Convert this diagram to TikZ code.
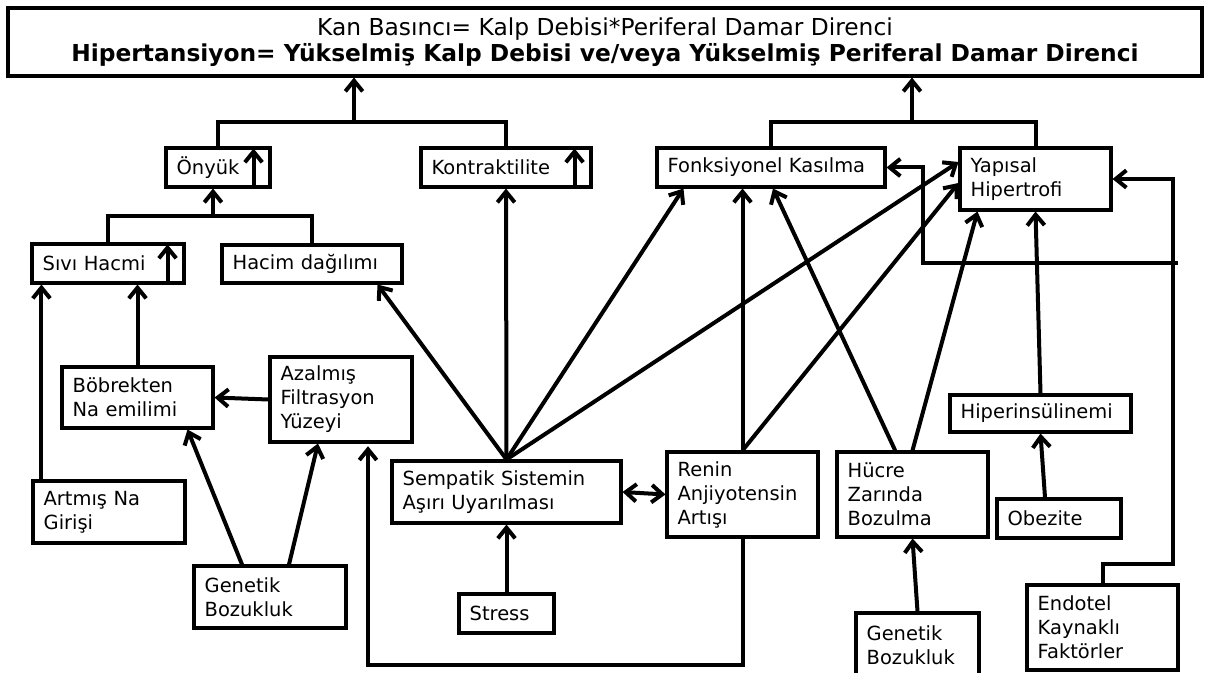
\documentclass[tikz,border=0pt]{standalone}
\usepackage{fontspec}
\setmainfont{DejaVu Sans}
\usetikzlibrary{arrows.meta}

\begin{document}
\begin{tikzpicture}
[x=0.75pt,y=-0.75pt,%
  boxNode/.style={draw,line width=2.3pt,rectangle,align=left,inner xsep=8pt,
    inner ysep=0pt,font=\fontsize{14.6}{18}\selectfont},%
  titleNode/.style={draw,line width=2.3pt,rectangle,align=center,
    font=\fontsize{17.5}{19.5}\selectfont},%
  arrowLine/.style={line width=3pt,-{Straight Barb[length=8pt,width=13pt]}},%
  plainLine/.style={line width=3pt},%
  bothLine/.style={line width=3pt,
    {Straight Barb[length=8pt,width=13pt]}-{Straight Barb[length=8pt,width=13pt]}}]
\useasboundingbox (0,0) rectangle (1210,673);

\node[titleNode,minimum width=895.5pt,minimum height=51pt] (titleBox) at (605,42)
  {Kan Basıncı= Kalp Debisi*Periferal Damar Direnci\\
   \textbf{Hipertansiyon= Yükselmiş Kalp Debisi ve/veya Yükselmiş Periferal Damar Direnci}};

% upper row
\node[boxNode,text width=62pt,minimum height=29.25pt] (onYuk) at (218,167.5) {Önyük};
\node[boxNode,text width=111.5pt,minimum height=29.25pt] (kontraktilite) at (506,167.5) {Kontraktilite};
\node[boxNode,text width=155pt,minimum height=29.25pt] (fonksiyonel) at (771,167.5) {Fonksiyonel~Kasılma};
\node[boxNode,text width=97.25pt,minimum height=46.5pt] (yapisal) at (1035.5,179) {Yapısal\\Hipertrofi};

% left side
\node[boxNode,text width=98pt,minimum height=29.25pt] (siviHacmi) at (108,263.5) {Sıvı Hacmi};
\node[boxNode,text width=119pt,minimum height=28.5pt] (hacimDagilimi) at (312,264) {Hacim dağılımı};
\node[boxNode,text width=97.25pt,minimum height=45.75pt] (bobrekten) at (137.5,397.5) {Böbrekten\\Na emilimi};
\node[boxNode,text width=90.5pt,minimum height=63.75pt] (azalmis) at (341,399.5) {Azalmış\\Filtrasyon\\Yüzeyi};
\node[boxNode,text width=98pt,minimum height=46.5pt] (artmisNa) at (109,512) {Artmış Na\\Girişi};
\node[boxNode,text width=98pt,minimum height=46.5pt] (genetikSol) at (270,597) {Genetik\\Bozukluk};

% middle
\node[boxNode,text width=155.75pt,minimum height=46.5pt] (sempatik) at (506.5,492) {Sempatik Sistemin\\Aşırı Uyarılması};
\node[boxNode,text width=97.25pt,minimum height=63.75pt] (renin) at (742.5,494.5) {Renin\\Anjiyotensin\\Artışı};
\node[boxNode,text width=55.25pt,minimum height=29.25pt] (stress) at (506.5,613.5) {Stress};

% right side
\node[boxNode,text width=97.25pt,minimum height=63.75pt] (hucreZari) at (912.5,494.5) {Hücre\\Zarında\\Bozulma};
\node[boxNode,text width=119.75pt,minimum height=27.75pt] (hiperinsulinemi) at (1040.5,413.5) {Hiperinsülinemi};
\node[boxNode,text width=77pt,minimum height=29.25pt] (obezite) at (1059,518.5) {Obezite};
\node[boxNode,text width=76.25pt,minimum height=48pt] (genetikSag) at (917.5,645) {Genetik\\Bozukluk};
\node[boxNode,text width=97.25pt,minimum height=63.75pt] (endotel) at (1102.5,627.5) {Endotel\\Kaynaklı\\Faktörler};

% joints and free ends
\coordinate (leftJoin) at (354,122);
\coordinate (rightJoin) at (912,122);
\coordinate (midJoin) at (213,216);
\coordinate (loopCorner) at (368,665);
\coordinate (endoCorner) at (1173,564);
\coordinate (freeEnd) at (1178,263);
\coordinate (backCorner) at (923,263);
\coordinate (naStart) at ([xshift=7.5pt]artmisNa.north west);

% brackets to the title
\draw[plainLine] (onYuk.north) |- (leftJoin) -| (kontraktilite.north);
\draw[arrowLine] (leftJoin) -- (leftJoin |- titleBox.south);
\draw[plainLine] (fonksiyonel.north) |- (rightJoin) -| (yapisal.north);
\draw[arrowLine] (rightJoin) -- (rightJoin |- titleBox.south);
\draw[plainLine] (siviHacmi.north) |- (midJoin) -| (hacimDagilimi.north);
\draw[arrowLine] (midJoin) -- (midJoin |- onYuk.south);

% small arrows inside boxes
\foreach \insideNode in {onYuk,kontraktilite,siviHacmi}
{
  \draw[arrowLine] ([xshift=-13.5pt]\insideNode.south east)
    -- ([xshift=-13.5pt,yshift=-1.5pt]\insideNode.north east);
}

% straight links
\foreach \startNode/\endNode in {
  stress/sempatik, sempatik/kontraktilite, hiperinsulinemi/yapisal,
  genetikSag/hucreZari}
{
  \draw[arrowLine] (\startNode.north) -- (\endNode.south);
}

\draw[arrowLine] (naStart) -- (naStart |- siviHacmi.south);
\draw[arrowLine] (bobrekten.north) -- (bobrekten.north |- siviHacmi.south);
\draw[arrowLine] (azalmis.west) -- (bobrekten.east);
\draw[arrowLine] ([xshift=-21pt]genetikSol.north) -- ([xshift=37.5pt]bobrekten.south);
\draw[arrowLine] ([xshift=14.25pt]genetikSol.north) -- ([xshift=-17.25pt]azalmis.south);
\draw[arrowLine] (renin.south) |- (loopCorner) -- ([yshift=-2pt]loopCorner |- azalmis.south);

\draw[arrowLine] (sempatik.north) -- ([xshift=-19.5pt]hacimDagilimi.south east);
\draw[arrowLine] (sempatik.north) -- ([xshift=21pt]fonksiyonel.south west);
\draw[arrowLine] (sempatik.north) -- ([yshift=12.75pt]yapisal.west);
\draw[bothLine] (sempatik.east) -- (renin.west);

\draw[arrowLine] (renin.north) -- (renin.north |- fonksiyonel.south);
\draw[arrowLine] (renin.north) -- ([yshift=-3pt]yapisal.west);

\draw[arrowLine] ([xshift=-13pt]hucreZari.north) -- ([xshift=1.5pt]fonksiyonel.south);
\draw[arrowLine] (hucreZari.north) -- ([xshift=14.25pt]yapisal.south west);
\draw[arrowLine] ([xshift=-10.5pt]obezite.north) -- (hiperinsulinemi.south);

\draw[arrowLine] (endotel.north) |- (endoCorner) |- (yapisal.east);
\draw[arrowLine] (freeEnd) -- (backCorner) |- (fonksiyonel.east);
\end{tikzpicture}
\end{document}
